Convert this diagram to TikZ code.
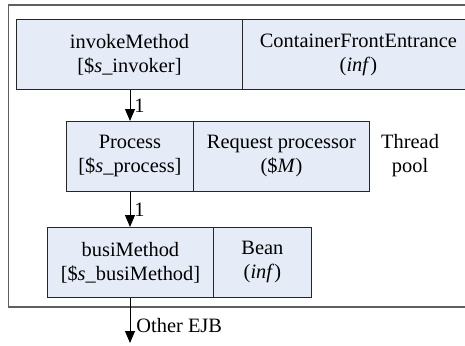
\documentclass[tikz,border=0pt]{standalone}
\usepackage{fontspec}
\setmainfont{Liberation Serif}
\usetikzlibrary{arrows.meta}
\definecolor{cellblue}{RGB}{230,236,247}
\definecolor{framegray}{RGB}{95,95,95}
\begin{document}
\begin{tikzpicture}[x=1pt,y=-1pt,
  txt/.style={font=\rmfamily\fontsize{20.4}{24}\selectfont},
  cell/.style={txt, draw=black!85, fill=cellblue, line width=0.9pt,
    minimum height=70pt, inner sep=0pt, align=center, anchor=north west},
  flow/.style={-{Triangle[length=12pt,width=10pt]}, line width=0.9pt},
  lbl/.style={txt, inner sep=1pt, anchor=west}]
\useasboundingbox (0,0) rectangle (465,345);
\clip (0,0) rectangle (465,345);

% container frame
\draw[framegray, line width=1.4pt] (8.5,5) rectangle (495,307);

% invoker tier
\node[cell, minimum width=226pt] (inv) at (16,19) {invokeMethod\\{[}\$\textit{s}\_invoker{]}};
\node[cell, minimum width=232pt] (cfe) at (242,19) {ContainerFrontEntrance\\(\textit{inf})};

% process tier
\node[cell, minimum width=127pt] (proc) at (66,121) {Process\\{[}\$\textit{s}\_process{]}};
\node[cell, minimum width=176pt] (rp) at (193,121) {Request processor\\(\$\textit{M})};
\node[txt, align=center, anchor=west, inner sep=0pt] (pool) at (381,156) {Thread\\pool};

% bean tier
\node[cell, minimum width=166pt] (busi) at (47,227) {busiMethod\\{[}\$\textit{s}\_busiMethod{]}};
\node[cell, minimum width=98pt] (bean) at (213,227) {Bean\\(\textit{inf})};

% calls
\coordinate (out) at (130,343);
\draw[flow] (inv.south -| 130,0) -- (proc.north -| 130,0) node[lbl, midway, xshift=3pt] {1};
\draw[flow] (proc.south -| 130,0) -- (busi.north -| 130,0) node[lbl, midway, xshift=3pt] {1};
\draw[flow] (busi.south -| 130,0) -- (out) node[lbl, pos=0.62, xshift=5pt] {Other EJB};
\end{tikzpicture}
\end{document}
